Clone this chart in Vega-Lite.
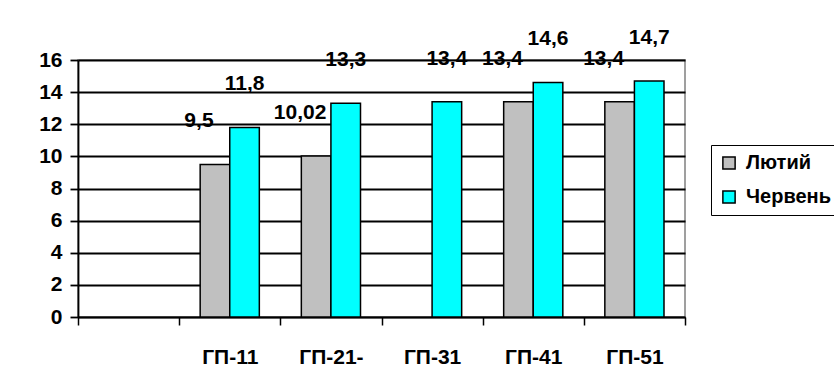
{
  "$schema": "https://vega.github.io/schema/vega-lite/v6.json",
  "width": 607,
  "height": 257,
  "autosize": {"type": "none"},
  "padding": {"left": 78, "top": 60, "right": 149, "bottom": 66},
  "background": "white",
  "config": {
    "font": "Liberation Sans",
    "view": {"stroke": "#808080", "strokeWidth": 1.5},
    "locale": {"number": {"decimal": ",", "thousands": " ", "grouping": [3], "currency": ["", ""]}}
  },
  "data": {
    "values": [
      {"g": "ГП-11", "s": "Лютий", "v": 9.5},
      {"g": "ГП-11", "s": "Червень", "v": 11.8},
      {"g": "ГП-21-", "s": "Лютий", "v": 10.02},
      {"g": "ГП-21-", "s": "Червень", "v": 13.3},
      {"g": "ГП-31", "s": "Червень", "v": 13.4},
      {"g": "ГП-41", "s": "Лютий", "v": 13.4},
      {"g": "ГП-41", "s": "Червень", "v": 14.6},
      {"g": "ГП-51", "s": "Лютий", "v": 13.4},
      {"g": "ГП-51", "s": "Червень", "v": 14.7}
    ]
  },
  "encoding": {
    "x": {
      "field": "g", "type": "nominal",
      "scale": {"domain": [" ", "ГП-11", "ГП-21-", "ГП-31", "ГП-41", "ГП-51"], "paddingInner": 0, "paddingOuter": 0},
      "axis": {
        "title": null, "labelAngle": 0, "tickBand": "extent", "tickSize": 8, "tickColor": "black", "tickWidth": 1.5,
        "domainColor": "black", "domainWidth": 1.5, "labelPadding": 21, "labelBaseline": "top",
        "labelFontSize": 21, "labelFontWeight": "bold", "labelColor": "black", "grid": false
      }
    },
    "xOffset": {
      "field": "s", "type": "nominal",
      "scale": {"domain": ["Лютий", "Червень"], "paddingOuter": 0.71, "paddingInner": 0}
    },
    "y": {
      "field": "v", "type": "quantitative",
      "scale": {"domain": [0, 16], "nice": false},
      "axis": {
        "title": null, "values": [0, 2, 4, 6, 8, 10, 12, 14, 16], "grid": true, "gridColor": "black", "gridWidth": 1.8,
        "tickSize": 8, "tickColor": "black", "tickWidth": 1.8, "domainColor": "black", "domainWidth": 1.8,
        "labelPadding": 8, "labelFontSize": 21, "labelFontWeight": "bold", "labelColor": "black"
      }
    }
  },
  "layer": [
    {
      "mark": {"type": "bar", "stroke": "black", "strokeWidth": 1.5},
      "encoding": {
        "color": {
          "field": "s", "type": "nominal",
          "scale": {"domain": ["Лютий", "Червень"], "range": ["#C0C0C0", "#00FFFF"]},
          "legend": {
            "title": null, "orient": "none", "legendX": 633, "legendY": 85,
            "strokeColor": "black", "padding": 8, "fillColor": "white",
            "symbolType": "square", "symbolSize": 150, "symbolStrokeColor": "black", "symbolStrokeWidth": 1.5,
            "symbolOpacity": 1, "labelFontSize": 20, "labelFontWeight": "bold", "labelColor": "black",
            "labelOffset": 7, "rowPadding": 14
          }
        }
      }
    },
    {
      "transform": [{"filter": "datum.s === 'Лютий'"}],
      "mark": {"type": "text", "dy": -43, "dx": -16, "fontSize": 21, "fontWeight": "bold", "color": "black"},
      "encoding": {"text": {"field": "v", "type": "quantitative", "format": "~g"}}
    },
    {
      "transform": [{"filter": "datum.s === 'Червень'"}],
      "mark": {"type": "text", "dy": -43, "fontSize": 21, "fontWeight": "bold", "color": "black"},
      "encoding": {"text": {"field": "v", "type": "quantitative", "format": "~g"}}
    }
  ]
}
